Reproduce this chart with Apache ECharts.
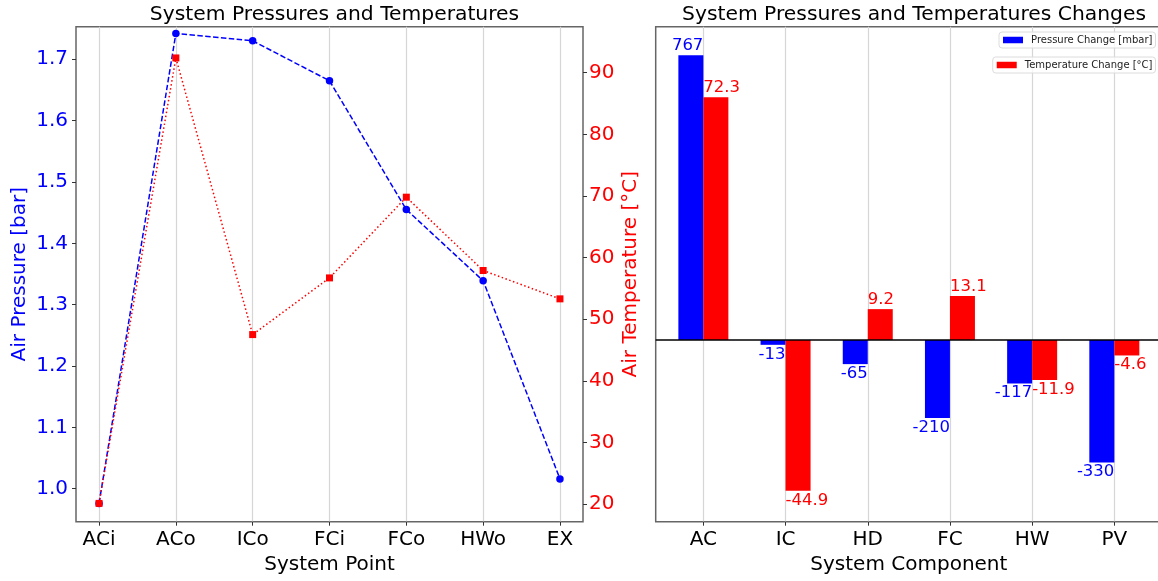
<!DOCTYPE html>
<html>
<head>
<meta charset="utf-8">
<script src="https://cdn.jsdelivr.net/npm/echarts@6/dist/echarts.min.js"></script>
<style>
  html, body { margin: 0; padding: 0; background: #fff; }
  #chart { width: 1158px; height: 581px; }
</style>
</head>
<body>
<div id="chart"></div>
<script>
// Measurement points along the air path
const points = ['ACi', 'ACo', 'ICo', 'FCi', 'FCo', 'HWo', 'EX'];
const pressureBar = [0.976, 1.742, 1.730, 1.665, 1.455, 1.339, 1.016];
const temperatureC = [20.1, 92.4, 47.5, 56.7, 69.8, 57.9, 53.3];

// Changes across each component
const components = ['AC', 'IC', 'HD', 'FC', 'HW', 'PV'];
const pressureChangeMbar = [767, -13, -65, -210, -117, -330];
const temperatureChangeC = [72.3, -44.9, 9.2, 13.1, -11.9, -4.6];

// Tick labels
const pressureTicks = [1.0, 1.1, 1.2, 1.3, 1.4, 1.5, 1.6, 1.7];
const temperatureTicks = [20, 30, 40, 50, 60, 70, 80, 90];

const FONT = 'DejaVu Sans';
const SPINE = '#666666';
const GRIDC = '#d6d6d6';
const BLUE = '#0000ff';
const RED = '#ff0000';

const pointIdx = points.map((_, i) => i);
const compIdx = components.map((_, i) => i);

const chart = echarts.init(document.getElementById('chart'), null, { renderer: 'canvas' });

const barW = 25;

function barData(values) {
  return values.map((v, i) => ({
    value: [i, v],
    label: { position: v >= 0 ? 'top' : 'bottom' }
  }));
}

const hiddenLine = { show: false, onZero: false };

const option = {
  animation: false,
  backgroundColor: '#ffffff',
  textStyle: { fontFamily: FONT },
  title: [
    {
      text: 'System Pressures and Temperatures',
      left: 329.5, top: 0, textAlign: 'center',
      textStyle: { fontFamily: FONT, fontSize: 20.3, fontWeight: 'normal', color: '#000' }
    },
    {
      text: 'System Pressures and Temperatures Changes',
      left: 909, top: 0, textAlign: 'center',
      textStyle: { fontFamily: FONT, fontSize: 20.3, fontWeight: 'normal', color: '#000' }
    }
  ],
  legend: [
    {
      data: [{ name: 'Pressure Change [mbar]', icon: 'rect' }],
      right: 2.5, top: 32, orient: 'vertical',
      itemWidth: 20, itemHeight: 6.5,
      padding: [3, 3, 3, 4],
      borderColor: '#dcdcdc', borderWidth: 1, borderRadius: 3,
      backgroundColor: 'rgba(255,255,255,0.8)',
      selectedMode: false,
      textStyle: { fontFamily: FONT, fontSize: 10, color: '#222', padding: [0, 0, 0, 3] }
    },
    {
      data: [{ name: 'Temperature Change [°C]', icon: 'rect' }],
      right: 2.5, top: 57, orient: 'vertical',
      itemWidth: 20, itemHeight: 6.5,
      padding: [3, 3, 3, 4],
      borderColor: '#dcdcdc', borderWidth: 1, borderRadius: 3,
      backgroundColor: 'rgba(255,255,255,0.8)',
      selectedMode: false,
      textStyle: { fontFamily: FONT, fontSize: 10, color: '#222', padding: [0, 0, 0, 3] }
    }
  ],
  grid: [
    { left: 76, top: 26.7, width: 507, height: 495, show: true, borderColor: SPINE, borderWidth: 1.5, outerBoundsMode: 'none', containLabel: false },
    { left: 655.7, top: 26.7, width: 506.3, height: 495, show: true, borderColor: SPINE, borderWidth: 1.5, outerBoundsMode: 'none', containLabel: false }
  ],
  xAxis: [
    {
      type: 'value', gridIndex: 0, min: -0.3, max: 6.3, position: 'bottom',
      name: 'System Point', nameLocation: 'middle', nameGap: 30,
      nameTextStyle: { fontFamily: FONT, fontSize: 20, color: '#000' },
      axisLine: hiddenLine,
      axisTick: { show: true, length: 4, customValues: pointIdx, lineStyle: { color: '#333' } },
      axisLabel: {
        customValues: pointIdx, margin: 8,
        fontFamily: FONT, fontSize: 20, color: '#000',
        formatter: v => points[Math.round(v)]
      },
      splitLine: { show: true, lineStyle: { color: GRIDC, width: 1.2 } }
    },
    {
      type: 'value', gridIndex: 1, min: -0.58, max: 5.58, position: 'bottom',
      name: 'System Component', nameLocation: 'middle', nameGap: 30,
      nameTextStyle: { fontFamily: FONT, fontSize: 20, color: '#000' },
      axisLine: hiddenLine,
      axisTick: { show: true, length: 4, customValues: compIdx, lineStyle: { color: '#333' } },
      axisLabel: {
        customValues: compIdx, margin: 8,
        fontFamily: FONT, fontSize: 20, color: '#000',
        formatter: v => components[Math.round(v)]
      },
      splitLine: { show: true, lineStyle: { color: GRIDC, width: 1.2 } }
    }
  ],
  yAxis: [
    {
      type: 'value', gridIndex: 0, position: 'left', min: 0.9462, max: 1.7531,
      name: 'Air Pressure [bar]', nameLocation: 'middle', nameGap: 46,
      nameTextStyle: { fontFamily: FONT, fontSize: 20, color: BLUE },
      axisLine: hiddenLine,
      axisTick: { show: true, length: 4, customValues: pressureTicks, lineStyle: { color: '#333' } },
      axisLabel: {
        customValues: pressureTicks, margin: 8,
        fontFamily: FONT, fontSize: 20, color: BLUE,
        formatter: v => v.toFixed(1)
      },
      splitLine: { show: false }
    },
    {
      type: 'value', gridIndex: 0, position: 'right', min: 17.13, max: 97.47,
      name: 'Air Temperature [°C]', nameLocation: 'middle', nameGap: 38,
      nameTextStyle: { fontFamily: FONT, fontSize: 20, color: RED },
      axisLine: hiddenLine,
      axisTick: { show: true, length: 4, customValues: temperatureTicks, lineStyle: { color: '#333' } },
      axisLabel: {
        customValues: temperatureTicks, margin: 6,
        fontFamily: FONT, fontSize: 20, color: RED,
        formatter: v => String(Math.round(v))
      },
      splitLine: { show: false }
    },
    {
      type: 'value', gridIndex: 1, position: 'left', min: -489.5, max: 844,
      axisLine: hiddenLine, axisTick: { show: false }, axisLabel: { show: false },
      splitLine: { show: false }
    },
    {
      type: 'value', gridIndex: 1, position: 'right', min: -54.1, max: 93.3,
      axisLine: hiddenLine, axisTick: { show: false }, axisLabel: { show: false },
      splitLine: { show: false }
    }
  ],
  series: [
    {
      name: 'Air Pressure',
      type: 'line', xAxisIndex: 0, yAxisIndex: 0,
      data: pressureBar.map((v, i) => [i, v]),
      symbol: 'circle', symbolSize: 7.5,
      itemStyle: { color: BLUE },
      lineStyle: { color: BLUE, width: 1.5, type: [5.5, 2.4] },
      z: 3
    },
    {
      name: 'Air Temperature',
      type: 'line', xAxisIndex: 0, yAxisIndex: 1,
      data: temperatureC.map((v, i) => [i, v]),
      symbol: 'rect', symbolSize: 7,
      itemStyle: { color: RED },
      lineStyle: { color: RED, width: 1.5, type: [1.5, 2.5] },
      z: 4
    },
    {
      name: 'Pressure Change [mbar]',
      type: 'bar', xAxisIndex: 1, yAxisIndex: 2,
      barWidth: barW, barGap: '0%',
      data: barData(pressureChangeMbar),
      itemStyle: { color: BLUE },
      label: {
        show: true, distance: 1, align: 'right', offset: [barW / 2, 0],
        fontFamily: FONT, fontSize: 16.5, color: BLUE
      },
      markLine: {
        silent: true, symbol: 'none',
        label: { show: false },
        lineStyle: { color: '#000', width: 1.5, type: 'solid' },
        data: [{ yAxis: 0 }]
      },
      z: 3
    },
    {
      name: 'Temperature Change [°C]',
      type: 'bar', xAxisIndex: 1, yAxisIndex: 3,
      barWidth: barW, barGap: '0%',
      data: barData(temperatureChangeC),
      itemStyle: { color: RED },
      label: {
        show: true, distance: 1, align: 'left', offset: [-barW / 2, 0],
        fontFamily: FONT, fontSize: 16.5, color: RED
      },
      z: 3
    }
  ]
};

chart.setOption(option);
</script>
</body>
</html>
